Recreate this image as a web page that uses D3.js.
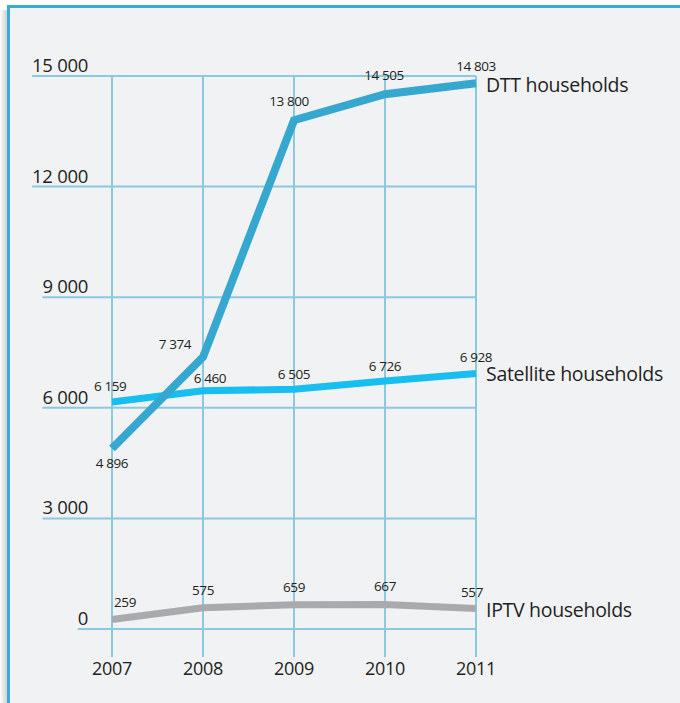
<!DOCTYPE html>
<html><head><meta charset="utf-8">
<script src="https://cdn.jsdelivr.net/npm/d3@7"></script>
<style>
html,body{margin:0;padding:0;background:#fff;}
svg{display:block;}
</style></head>
<body>
<script>
const years = ["2007","2008","2009","2010","2011"];
const dtt = [4896, 7374, 13800, 14505, 14803];
const satellite = [6159, 6460, 6505, 6726, 6928];
const iptv = [259, 575, 659, 667, 557];
const yTicks = [0, 3000, 6000, 9000, 12000, 15000];
const yTickLabels = ["0", "3 000", "6 000", "9 000", "12 000", "15 000"];
const seriesNames = ["DTT households", "Satellite households", "IPTV households"];

const W = 680, H = 703;
const svg = d3.select("body").append("svg").attr("width", W).attr("height", H);
const font = "'Open Sans', 'Noto Sans', sans-serif";

// frame
const defs = svg.append("defs");
const g = defs.append("linearGradient").attr("id","sh").attr("x1","0").attr("x2","1");
g.append("stop").attr("offset","0").attr("stop-color","#ffffff");
g.append("stop").attr("offset","1").attr("stop-color","#c9cacc");
svg.append("rect").attr("x",0).attr("y",10).attr("width",8).attr("height",H-10).attr("fill","url(#sh)");
svg.append("rect").attr("x",8).attr("y",6).attr("width",W-8).attr("height",H-6).attr("fill","#f1f2f4");
svg.append("line").attr("x1",7).attr("x2",W).attr("y1",6.5).attr("y2",6.5).attr("stroke","#38acd3").attr("stroke-width",3);
svg.append("line").attr("x1",8.5).attr("x2",8.5).attr("y1",5).attr("y2",H).attr("stroke","#38acd3").attr("stroke-width",3);

const x = d3.scalePoint().domain(years).range([112, 476]);
const y = d3.scaleLinear().domain([0, 15000]).range([629, 76]);

const fmt = v => d3.format(",")(v).replace(/,/g, " ");
const fmtTick = (v,i) => yTickLabels[i];

// grid: vertical lines
const grid = svg.append("g");
years.forEach(yr => {
  grid.append("line").attr("x1", x(yr)).attr("x2", x(yr)).attr("y1", y(15000)).attr("y2", 657)
    .attr("stroke", "#8cc8e0").attr("stroke-width", 2);
});

// y axis labels + horizontal lines
const labG = svg.append("g");
yTicks.forEach((t,i) => {
  const txt = labG.append("text").attr("x", 88).attr("y", y(t) - 4)
    .attr("text-anchor","end").attr("font-family", font).attr("font-size", 18.5)
    .attr("fill","#231f20").attr("letter-spacing", "-0.3").text(fmtTick(t,i));
  const bb = txt.node().getBBox();
  grid.append("line").attr("x1", bb.x).attr("x2", x("2011")).attr("y1", y(t)).attr("y2", y(t))
    .attr("stroke", "#8cc8e0").attr("stroke-width", 2);
});

// x axis labels
svg.append("g").selectAll("text").data(years).join("text")
  .attr("x", d => x(d)).attr("y", 675).attr("text-anchor","middle")
  .attr("font-family", font).attr("font-size", 18).attr("fill","#231f20")
  .attr("letter-spacing","-0.3").text(d => d);

const line = d3.line().x((d,i) => x(years[i])).y(d => y(d));

const series = [
  {name: seriesNames[2], vals: iptv, color: "#a9aaad", w: 7,
   off: [[0,-12,"start"],[0,-13,"middle"],[0,-13,"middle"],[0,-13,"middle"],[-4,-11,"middle"]], lab: 617},
  {name: seriesNames[1], vals: satellite, color: "#17bff0", w: 7,
   off: [[-20,-11,"start"],[7,-8,"middle"],[0,-10,"middle"],[0,-10,"middle"],[0,-12,"middle"]], lab: 381},
  {name: seriesNames[0], vals: dtt, color: "#36a8cf", w: 8,
   off: [[0,19,"middle"],[-28,-8,"middle"],[-5,-14,"middle"],[-1,-14,"middle"],[0,-12,"middle"]], lab: 92}
];

series.forEach(s => {
  svg.append("path").datum(s.vals).attr("d", line).attr("fill","none")
    .attr("stroke", s.color).attr("stroke-width", s.w).attr("stroke-linejoin","miter");
  svg.append("g").selectAll("text").data(s.vals).join("text")
    .attr("x", (d,i) => x(years[i]) + s.off[i][0] + (i===0 && s.off[i][2]==="start" ? 2 : 0))
    .attr("y", (d,i) => y(d) + s.off[i][1])
    .attr("text-anchor", (d,i) => s.off[i][2])
    .attr("font-family", font).attr("font-size", 13.5).attr("fill","#231f20")
    .attr("letter-spacing","-0.4")
    .text(d => fmt(d));
  svg.append("text").attr("x", 486).attr("y", s.lab).attr("font-family", font)
    .attr("font-size", 19.5).attr("fill","#231f20").attr("letter-spacing","-0.3").text(s.name);
});
</script>
</body></html>
